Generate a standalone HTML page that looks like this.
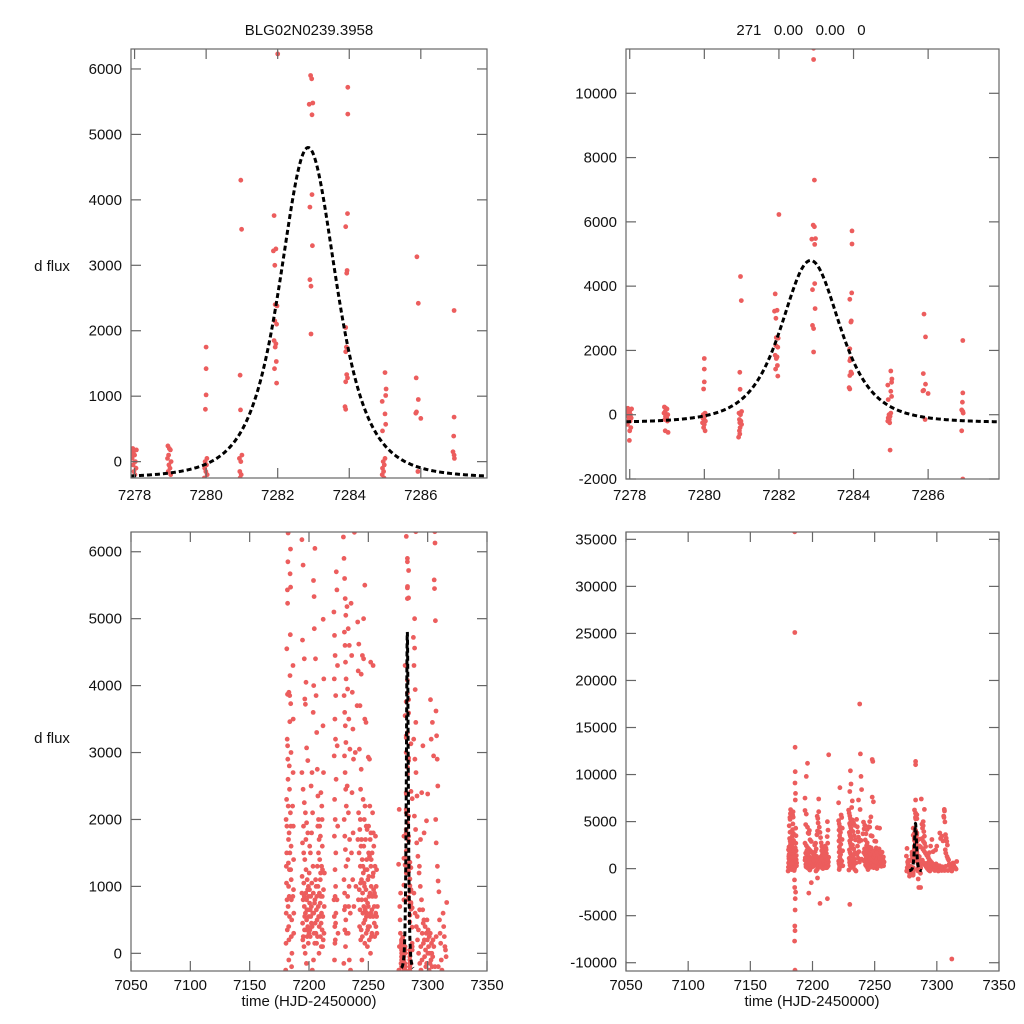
<!DOCTYPE html>
<html><head><meta charset="utf-8"><style>
html,body{margin:0;padding:0;background:#fff;overflow:hidden;width:1024px;height:1024px;}
svg{display:block;}
svg text{font-family:"Liberation Sans",sans-serif;fill:#111;}
</style></head><body>
<svg id="fig" width="1024" height="1024" viewBox="0 0 1024 1024" xmlns="http://www.w3.org/2000/svg">
<rect width="1024" height="1024" fill="#fff"/>
<text x="309" y="35" font-size="15" text-anchor="middle">BLG02N0239.3958</text>
<text x="801" y="35" font-size="15" text-anchor="middle" style="white-space:pre">271   0.00   0.00   0</text>
<text x="52" y="271" font-size="15" text-anchor="middle">d flux</text>
<text x="52" y="743" font-size="15" text-anchor="middle">d flux</text>
<text x="309" y="1006" font-size="15" text-anchor="middle">time (HJD-2450000)</text>
<text x="812" y="1006" font-size="15" text-anchor="middle">time (HJD-2450000)</text>
</svg>
<script>
// ---- event (zoomed) data ----
const eventData = [
[7277.95,200],[7277.97,150],[7278.0,100],[7277.93,50],[7278.02,0],[7277.96,-50],[7278.04,-100],[7277.98,-150],[7278.01,-200],[7277.94,-300],[7278.03,-400],[7278.0,-500],[7277.99,-800],[7278.05,180],[7277.92,120],
[7278.93,240],[7278.97,200],[7279.0,180],[7278.95,100],[7278.92,50],[7279.02,0],[7278.96,-50],[7278.99,-100],[7278.94,-150],[7279.01,-200],[7278.95,-500],[7279.03,-550],
[7280.0,1750],[7280.0,1420],[7280.0,1020],[7279.98,800],[7280.02,50],[7279.97,0],[7280.01,-50],[7279.96,-100],[7279.99,-150],[7280.03,-200],[7279.95,-250],[7280.0,-300],[7279.98,-400],[7280.02,-500],
[7280.97,4300],[7280.99,3550],[7280.95,1320],[7280.96,790],[7281.0,100],[7280.93,50],[7280.97,0],[7280.94,-150],[7280.98,-200],[7280.95,-250],[7281.0,-300],[7280.96,-400],[7280.94,-500],[7280.95,-600],[7280.92,-700],
[7282.0,6230],[7281.9,3760],[7281.95,3250],[7281.88,3220],[7281.92,3000],[7281.93,2400],[7281.98,2380],[7281.92,2150],[7281.97,2100],[7281.9,1850],[7281.95,1800],[7281.93,1750],[7281.96,1530],[7281.91,1420],[7281.97,1200],
[7282.93,11400],[7282.93,11050],[7282.95,7300],[7282.92,5900],[7282.95,5850],[7282.88,5460],[7282.98,5480],[7282.96,5300],[7282.96,4080],[7282.9,3890],[7282.97,3300],[7282.9,2780],[7282.93,2680],[7282.93,1950],
[7283.96,5720],[7283.96,5310],[7283.95,3790],[7283.9,3590],[7283.94,2920],[7283.93,2880],[7283.9,2050],[7283.92,1750],[7283.9,1680],[7283.93,1330],[7283.95,1280],[7283.9,1220],[7283.88,840],[7283.9,800],
[7285.0,1360],[7285.03,1110],[7285.02,1010],[7284.92,920],[7285.0,730],[7285.02,570],[7284.93,470],[7285.0,50],[7284.95,0],[7284.98,-50],[7284.93,-100],[7284.96,-150],[7284.92,-200],[7284.97,-250],[7284.98,-1100],
[7285.89,3130],[7285.93,2420],[7285.87,1280],[7285.93,950],[7285.88,760],[7285.86,740],[7286.0,660],[7285.92,-150],
[7286.93,2310],[7286.93,680],[7286.92,390],[7286.9,150],[7286.93,100],[7286.94,50],[7286.9,-500],[7286.93,-2000]
];
// ---- full light-curve seasons ----
const seasonA = [[7180.4,-250],[7180.6,150],[7180.8,600],[7181.0,1050],[7181.2,1500],[7181.4,1900],[7181.1,2300],[7181.6,3200],[7181.3,4550],[7181.8,5430],[7182.0,5230],[7182.2,5850],[7182.4,6280],[7181.9,3870],[7182.1,2900],[7182.3,2600],[7182.5,2200],[7182.7,1700],[7182.6,1350],[7182.8,1000],[7182.4,700],[7182.9,400],[7183.1,200],[7183.0,-100],[7183.3,850],[7183.5,1250],[7183.2,1800],[7183.6,2450],[7183.4,2800],[7183.8,3460],[7183.7,3850],[7184.0,4150],[7184.2,4760],[7184.1,5670],[7184.4,6040],[7184.5,5470],[7184.6,3730],[7184.8,3000],[7184.3,2100],[7184.9,1600],[7185.0,1100],[7185.2,800],[7185.4,500],[7185.1,250],[7185.6,0],[7185.3,-200],[7185.7,35800],[7185.8,25100],[7186.0,12900],[7186.1,10300],[7185.9,9100],[7186.3,8000],[7186.2,7300],[7185.5,-1200],[7185.7,-2000],[7186.4,-2500],[7186.1,-3200],[7186.0,-4400],[7185.8,-6100],[7185.9,-6600],[7185.6,-7700],[7185.9,-10800],[7186.5,4300],[7186.7,3500],[7186.6,2700],[7186.8,1900],[7187.0,1400],[7186.9,950],[7187.2,600],[7187.1,300],[7180.9,1300],[7181.5,800],[7183.9,1500],[7184.7,1900],[7186.2,2200],[7180.7,2000],[7182.0,3100],[7183.1,3900],[7181.7,350],[7183.6,550],[7184.6,1250],[7186.4,850]];
const seasonB = [[7194,6180],[7195,5800],[7194.5,4680],[7196,4400],[7197.5,4050],[7196.5,3800],[7197,3720],[7198,3070],[7199,2880],[7194,2700],[7195,2450],[7196,2250],[7197,2100],[7198,1950],[7199,1800],[7194.5,1650],[7195.5,1500],[7196.5,1400],[7197.5,1250],[7198.5,1100],[7199.5,1000],[7194,900],[7195,800],[7196,700],[7197,600],[7198,500],[7199,400],[7200,300],[7194.8,200],[7195.8,100],[7196.8,0],[7197.8,-150],[7198.8,950],[7199.8,850],[7200.5,750],[7201,650],[7201.5,550],[7202,450],[7200.2,1200],[7201.2,1500],[7202.2,1800],[7203,2100],[7201.8,2500],[7202.5,2700],[7203.5,3600],[7204,4000],[7204.5,4850],[7203.8,5570],[7204.3,5330],[7205,6050],[7205.5,4400],[7206,3850],[7206.5,3300],[7207,2750],[7207.5,2350],[7208,2000],[7208.5,1700],[7209,1400],[7209.5,1100],[7210,850],[7210.5,600],[7211,350],[7211.5,100],[7212,4990],[7212.5,4100],[7211.8,3400],[7212.2,2700],[7210.8,2200],[7211.2,1600],[7209.8,1200],[7208.8,900],[7207.8,700],[7206.8,500],[7205.8,300],[7204.8,150],[7203.8,-100],[7202.8,-250],[7206,1000],[7207,1300],[7208,1500],[7209,1900],[7210,2400],[7205,800],[7204,600],[7212,200],[7213,1200],[7212.8,700],[7196,11200],[7195,9800],[7194,7500],[7197,-2600],[7199,-1500],[7205,7400],[7206,-3700],[7213,12100],[7212,-3200],[7204,-1000],[7200.8,350],[7202.4,1050],[7209.2,550],[7211.4,1250],[7196.2,350],[7198.2,650]];
const seasonBdense = [[7194.2,1150],[7194.6,450],[7195.2,250],[7195.6,1050],[7196.0,850],[7196.4,550],[7197.2,900],[7197.6,350],[7198.0,800],[7198.4,250],[7199.0,650],[7199.4,150],[7200.0,550],[7200.4,950],[7201.0,250],[7201.4,850],[7202.0,700],[7202.6,400],[7203.2,600],[7203.6,900],[7204.2,300],[7204.6,750],[7205.2,450],[7205.6,1100],[7206.2,650],[7206.6,850],[7207.2,250],[7207.6,1000],[7208.2,550],[7208.6,400],[7209.4,750],[7209.6,250],[7210.2,450],[7210.6,1300],[7211.2,850],[7211.6,550],[7212.2,950],[7212.6,300],[7210.4,100],[7208.4,0],[7206.4,150],[7203.4,1300],[7200.6,1600],[7197.4,1700],[7195.4,1900],[7209.6,1750],[7211.0,2000],[7207.4,1900]];
const seasonC = [[7221,5100],[7221.5,4750],[7222,4450],[7221.3,4100],[7222.5,3850],[7221.8,3500],[7222.3,3200],[7221.2,2950],[7222.8,2600],[7221.6,2300],[7222.1,2000],[7221.4,1750],[7222.6,1500],[7221.9,1250],[7222.4,1000],[7221.1,800],[7222.7,600],[7221.7,400],[7222.2,200],[7221.5,-100],[7223.5,5430],[7224,4300],[7223.8,3100],[7224.2,1900],[7223.6,800],[7224.4,300],[7222,8600],[7221,7000],[7223,5700],[7229,6220],[7229.5,5900],[7230,5600],[7230.5,5300],[7231,5050],[7229.8,4800],[7230.3,4600],[7230.8,4350],[7231.3,4100],[7229.6,3850],[7230.1,3600],[7230.6,3400],[7231.1,3150],[7229.9,2950],[7230.4,2700],[7230.9,2450],[7231.4,2200],[7229.7,2000],[7230.2,1750],[7230.7,1550],[7231.2,1300],[7229.5,1100],[7230,900],[7230.5,700],[7231,500],[7231.5,300],[7230.8,100],[7229.3,-150],[7232,5180],[7233,4850],[7234,4600],[7232.5,3950],[7233.5,3500],[7234.5,3050],[7232.2,2500],[7233.2,2100],[7234.2,1700],[7232.8,1400],[7233.8,1000],[7234.8,600],[7233,300],[7234,-100],[7235.5,5230],[7236,4450],[7236.5,3900],[7237,3350],[7237.5,2900],[7236.2,2400],[7237.2,1800],[7235.8,1500],[7236.8,1100],[7237.8,700],[7238.3,6290],[7235,-250],[7231,9000],[7230,8200],[7232,7200],[7230.5,10400],[7231.5,6500],[7238,17500],[7238.5,12200],[7239,9800],[7239.5,8400],[7237,7300],[7230,-3800],[7239,3000],[7239.5,1000],[7221.3,550],[7222.0,850],[7221.8,150],[7222.4,450],[7230.2,350],[7229.8,650],[7233.4,700],[7232.6,850]];
const seasonD = [[7241,4950],[7242,4620],[7241.5,4220],[7243,3700],[7242.5,3050],[7244,2750],[7243.5,2450],[7241.8,2100],[7242.8,1850],[7243.8,1600],[7244.8,1400],[7245.8,1200],[7246.8,1000],[7247.8,800],[7248.8,600],[7249.8,400],[7250.8,200],[7251.8,0],[7241.2,1700],[7242.2,1500],[7243.2,1300],[7244.2,1100],[7245.2,900],[7246.2,700],[7247.2,500],[7248.2,300],[7249.2,100],[7250.2,1900],[7251.2,2200],[7252.2,1800],[7253.2,1500],[7254.2,1200],[7255.2,900],[7256.2,600],[7257.2,300],[7241.6,800],[7242.6,400],[7243.6,200],[7244.6,-100],[7245.6,2300],[7246.6,2000],[7247.6,1700],[7248.6,1400],[7249.6,1100],[7250.6,850],[7251.6,550],[7252.6,250],[7253.6,2100],[7254.6,1600],[7255.6,1300],[7256.6,1000],[7257.6,700],[7245,4450],[7246,4400],[7247,3500],[7248,3450],[7250,2930],[7251,2900],[7252,4350],[7240.5,3700],[7244,4170],[7249,1850],[7251,1450],[7253,650],[7255,450],[7257,1250],[7256,1750],[7248,11600],[7248.5,11400],[7248,7600],[7249,7100],[7247,5500],[7246,5000],[7254,4300],[7245.4,600],[7247.4,1250],[7249.4,750],[7252.4,1000]];
const seasonDdense = [[7242.4,950],[7243.0,650],[7243.4,1050],[7244.0,350],[7244.4,800],[7245.0,250],[7245.4,1300],[7246.0,450],[7246.4,1050],[7247.0,150],[7247.4,650],[7248.0,950],[7248.4,550],[7249.0,1250],[7249.4,350],[7250.0,700],[7250.4,1150],[7251.0,400],[7251.4,900],[7252.0,600],[7252.4,1400],[7253.0,300],[7253.4,850],[7254.0,550],[7254.4,950],[7255.0,700],[7255.4,250],[7256.0,850],[7256.4,400],[7257.0,550],[7244.2,1700],[7246.2,1600],[7248.2,1900],[7250.2,1500],[7252.2,1300],[7254.2,1800],[7243.2,2000],[7247.2,2200],[7251.6,1700],[7253.8,1150]];
const seasonE = [[7276,2150],[7275.5,1330],[7276.5,700],[7277,300],[7276.2,100],[7277.5,-150],[7275.8,-250],[7276.8,500],[7277.2,900],[7288,4720],[7289,4560],[7288.5,4300],[7289.5,3940],[7290,3450],[7288.2,3200],[7289.2,2900],[7290.2,2700],[7291,2350],[7288.8,2050],[7289.8,1850],[7290.8,1650],[7291.8,1450],[7292.8,1200],[7293.8,1000],[7294.8,800],[7295.8,650],[7296.8,500],[7297.8,400],[7298.8,300],[7299.8,200],[7300.8,100],[7301.8,0],[7302.8,-100],[7303.8,-200],[7288.4,900],[7289.4,600],[7290.4,400],[7291.4,200],[7292.4,0],[7293.4,-150],[7294.4,-250],[7295.4,300],[7296.4,150],[7297.4,-50],[7298.4,-200],[7299.4,500],[7300.4,350],[7301.4,250],[7302.4,3790],[7303,3200],[7304,3450],[7305,2950],[7306,6300],[7306.2,6130],[7305.5,5580],[7305.8,5450],[7306.5,4970],[7307,3620],[7307.5,3250],[7308,2900],[7308.5,2500],[7306.8,2000],[7307.2,1650],[7308.2,1300],[7308.8,1080],[7309.5,920],[7310,500],[7310.5,300],[7311,150],[7311.5,-100],[7312,-250],[7313,600],[7313.5,400],[7314,250],[7314.5,100],[7315,50],[7315.5,-50],[7316,760],[7312,-9600],[7309,-200],[7304.5,200],[7303.5,0],[7302,-150],[7300,2380],[7299,1980],[7297,1800],[7296,3100],[7295,2400],[7294,1700],[7293,1300],[7287.5,7400],[7290,6300],[7289,5000],[7285.5,-2000],[7291.2,550],[7292.2,350],[7293.2,650],[7294.2,100],[7295.2,-100],[7296.2,450],[7297.2,200],[7298.2,50],[7299.2,-150],[7300.2,0],[7301.2,-250],[7302.2,300],[7303.2,150],[7304.2,-50],[7305.2,100],[7306.2,-200],[7307.2,250]];
// model fit parameters
const fitT0 = 7282.85, fitAmp = 5050, fitBase = -250, fitWidth = 1.45;
// tick labels
const ticksXZoom = [7278,7280,7282,7284,7286];
const ticksXFull = [7050,7100,7150,7200,7250,7300,7350];
const ticksYSmall = [0,1000,2000,3000,4000,5000,6000];
const ticksYTR = [-2000,0,2000,4000,6000,8000,10000];
const ticksYBR = [-10000,-5000,0,5000,10000,15000,20000,25000,30000,35000];

const NS = 'http://www.w3.org/2000/svg';
const svg = document.getElementById('fig');
function mk(tag, attrs, parent){const e=document.createElementNS(NS,tag);for(const k in attrs)e.setAttribute(k,attrs[k]);(parent||svg).appendChild(e);return e;}
function model(t){const x=(t-fitT0)/fitWidth;const d=1+x*x;return fitBase+fitAmp/(d*d);}

const fullData = [].concat(seasonA, seasonB, seasonBdense, seasonC, seasonD, seasonDdense, seasonE, eventData);

const panels = [
 {id:'top-left', x0:131,x1:487,y0:49,y1:478, xmin:7277.9,xmax:7287.85, ymin:-250,ymax:6305, xt:ticksXZoom, yt:ticksYSmall, data:eventData, xlabY:500},
 {id:'top-right', x0:626,x1:999,y0:49,y1:479, xmin:7277.9,xmax:7287.9, ymin:-2000,ymax:11378, xt:ticksXZoom, yt:ticksYTR, data:eventData, xlabY:500},
 {id:'bottom-left', x0:131,x1:487,y0:532,y1:971, xmin:7050,xmax:7350, ymin:-264,ymax:6295, xt:ticksXFull, yt:ticksYSmall, data:fullData, xlabY:990},
 {id:'bottom-right', x0:626,x1:999,y0:532,y1:971, xmin:7050,xmax:7350, ymin:-10880,ymax:35780, xt:ticksXFull, yt:ticksYBR, data:fullData, xlabY:990}
];

panels.forEach(p=>{
  const sx=v=>p.x0+(v-p.xmin)/(p.xmax-p.xmin)*(p.x1-p.x0);
  const sy=v=>p.y1-(v-p.ymin)/(p.ymax-p.ymin)*(p.y1-p.y0);
  const g=mk('g',{});
  
  
  const cp=mk('clipPath',{id:'clip-'+p.id},g);
  mk('rect',{x:p.x0,y:p.y0,width:p.x1-p.x0,height:p.y1-p.y0},cp);
  const pts=mk('g',{'clip-path':'url(#clip-'+p.id+')'},g);
  
  
  const yPad=(p.ymax-p.ymin)*0.01, xPad=(p.xmax-p.xmin)*0.01;
  p.data.forEach(d=>{
    if(d[1]<p.ymin-yPad||d[1]>p.ymax+yPad||d[0]<p.xmin-xPad||d[0]>p.xmax+xPad) return;
    const c=mk('circle',{cx:sx(d[0]).toFixed(1),cy:sy(d[1]).toFixed(1),r:2.4,fill:'#ec5d5d'},pts);
    
    
  });
  let dstr='';
  for(let i=0;i<=300;i++){const t=7277.9+(7287.85-7277.9)*i/300;dstr+=(i?'L':'M')+sx(t).toFixed(2)+' '+sy(model(t)).toFixed(2);}
  const fit=mk('path',{d:dstr,fill:'none',stroke:'#000','stroke-width':3,'stroke-dasharray':'5,3','clip-path':'url(#clip-'+p.id+')'},g);
  
  
  const fr=mk('rect',{x:p.x0,y:p.y0,width:p.x1-p.x0,height:p.y1-p.y0,fill:'none',stroke:'#666','stroke-width':1.2},g);
  
  
  p.xt.forEach(v=>{
    const X=sx(v);
    mk('line',{x1:X,x2:X,y1:p.y1,y2:p.y1-10,stroke:'#666','stroke-width':1.2},g);
    mk('line',{x1:X,x2:X,y1:p.y0,y2:p.y0+10,stroke:'#666','stroke-width':1.2},g);
    const t=mk('text',{x:X,y:p.xlabY,'font-size':15,'text-anchor':'middle'},g);
    t.textContent=v;
    
    
  });
  p.yt.forEach(v=>{
    const Y=sy(v);
    mk('line',{x1:p.x0,x2:p.x0+10,y1:Y,y2:Y,stroke:'#666','stroke-width':1.2},g);
    mk('line',{x1:p.x1,x2:p.x1-10,y1:Y,y2:Y,stroke:'#666','stroke-width':1.2},g);
    const t=mk('text',{x:p.x0-9,y:Y+5,'font-size':15,'text-anchor':'end'},g);
    t.textContent=v;
    
    
  });
});
</script>
</body></html>
